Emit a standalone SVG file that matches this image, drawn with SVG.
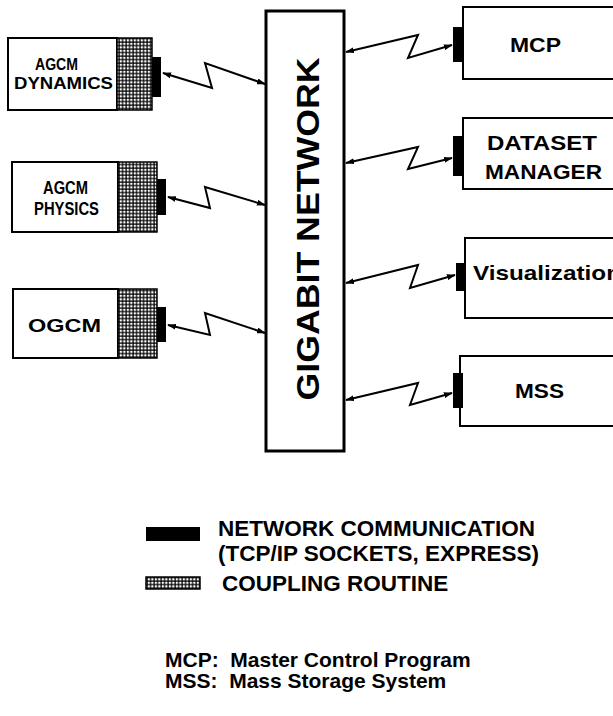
<svg xmlns="http://www.w3.org/2000/svg" width="613" height="716" viewBox="0 0 613 716">
<style>
.box{fill:#fff;stroke:#000;stroke-width:2}
.hatch{fill:url(#grid);stroke:#000;stroke-width:1.5}
.bar{fill:#000}
.t{font-family:"Liberation Sans",Arial,Helvetica,sans-serif;font-weight:bold;fill:#000}
.conn{fill:none;stroke:#000;stroke-width:2;stroke-linejoin:miter;marker-start:url(#ah);marker-end:url(#ah)}
</style>
<defs>
<pattern id="grid" width="3.5" height="3.5" patternUnits="userSpaceOnUse">
<rect width="3.5" height="3.5" fill="#000"/>
<rect x="0.7" y="0.7" width="2.3" height="2.3" fill="#fff"/>
</pattern>
<marker id="ah" viewBox="0 0 10 10" refX="9" refY="5" markerWidth="9" markerHeight="6" markerUnits="userSpaceOnUse" orient="auto-start-reverse" preserveAspectRatio="none">
<path d="M0,0 L10,5 L0,10 Z" fill="#000"/>
</marker>
</defs>

<g id="gigabit-network">
<rect x="266" y="11" width="78" height="440" fill="#fff" stroke="#000" stroke-width="3"/>
<text class="t" font-size="32" text-anchor="middle" transform="translate(319,229) rotate(-90)" textLength="343" lengthAdjust="spacingAndGlyphs">GIGABIT NETWORK</text>
</g>

<g id="agcm-dynamics">
<rect class="box" x="8" y="38" width="109" height="72"/>
<rect class="hatch" x="117" y="38" width="35" height="72"/>
<rect class="bar" x="152" y="57" width="9" height="40"/>
<text class="t" font-size="17" x="35" y="70" textLength="43" lengthAdjust="spacingAndGlyphs">AGCM</text>
<text class="t" font-size="17" x="14" y="89" textLength="99" lengthAdjust="spacingAndGlyphs">DYNAMICS</text>
</g>

<g id="agcm-physics">
<rect class="box" x="12" y="162" width="106" height="70"/>
<rect class="hatch" x="118" y="162" width="39" height="70"/>
<rect class="bar" x="157" y="179" width="9" height="36"/>
<text class="t" font-size="17.5" x="43" y="194" textLength="45" lengthAdjust="spacingAndGlyphs">AGCM</text>
<text class="t" font-size="17.5" x="34" y="215" textLength="65" lengthAdjust="spacingAndGlyphs">PHYSICS</text>
</g>

<g id="ogcm">
<rect class="box" x="13" y="289" width="105" height="69"/>
<rect class="hatch" x="118" y="289" width="39" height="69"/>
<rect class="bar" x="157" y="307" width="9" height="35"/>
<text class="t" font-size="19" x="28" y="332" textLength="73" lengthAdjust="spacingAndGlyphs">OGCM</text>
</g>

<g id="mcp">
<rect class="box" x="463" y="7" width="160" height="72"/>
<rect class="bar" x="453" y="27" width="10" height="35"/>
<text class="t" font-size="21" x="510" y="52" textLength="51" lengthAdjust="spacingAndGlyphs">MCP</text>
</g>

<g id="dataset-manager">
<rect class="box" x="463" y="118" width="160" height="71"/>
<rect class="bar" x="453" y="136" width="10" height="40"/>
<text class="t" font-size="20.5" x="487" y="150" textLength="110" lengthAdjust="spacingAndGlyphs">DATASET</text>
<text class="t" font-size="20.5" x="485" y="179" textLength="117" lengthAdjust="spacingAndGlyphs">MANAGER</text>
</g>

<g id="visualization">
<rect class="box" x="465" y="238" width="160" height="80"/>
<rect class="bar" x="456" y="263" width="10" height="28"/>
<text class="t" font-size="21" x="473" y="280" textLength="148" lengthAdjust="spacingAndGlyphs">Visualization</text>
</g>

<g id="mss">
<rect class="box" x="460" y="356" width="160" height="70"/>
<rect class="bar" x="453" y="373" width="10" height="35"/>
<text class="t" font-size="20.5" x="515" y="398" textLength="49" lengthAdjust="spacingAndGlyphs">MSS</text>
</g>

<g id="connectors">
<polyline class="conn" points="163,73 212,88 205,63 265,84"/>
<polyline class="conn" points="168,197 210,208 205,187 265,205"/>
<polyline class="conn" points="168,325 210,335 205,313 265,333"/>
<polyline class="conn" points="346,52 418,35 408,58 452,45"/>
<polyline class="conn" points="346,163 418,147 408,169 452,158"/>
<polyline class="conn" points="346,283 418,265 410,288 455,275"/>
<polyline class="conn" points="346,400 418,383 410,405 452,393"/>
</g>

<g id="legend">
<rect x="146" y="527" width="54" height="14" fill="#000"/>
<text class="t" font-size="22.5" x="218" y="536">NETWORK COMMUNICATION</text>
<text class="t" font-size="22.5" x="218" y="561">(TCP/IP SOCKETS, EXPRESS)</text>
<rect x="146" y="577" width="54" height="12" fill="url(#grid)" stroke="#000" stroke-width="1.5"/>
<text class="t" font-size="22.5" x="222" y="591">COUPLING ROUTINE</text>
<text class="t" font-size="21" x="165" y="667" xml:space="preserve">MCP:  Master Control Program</text>
<text class="t" font-size="21" x="165" y="688" xml:space="preserve">MSS:  Mass Storage System</text>
</g>
</svg>
